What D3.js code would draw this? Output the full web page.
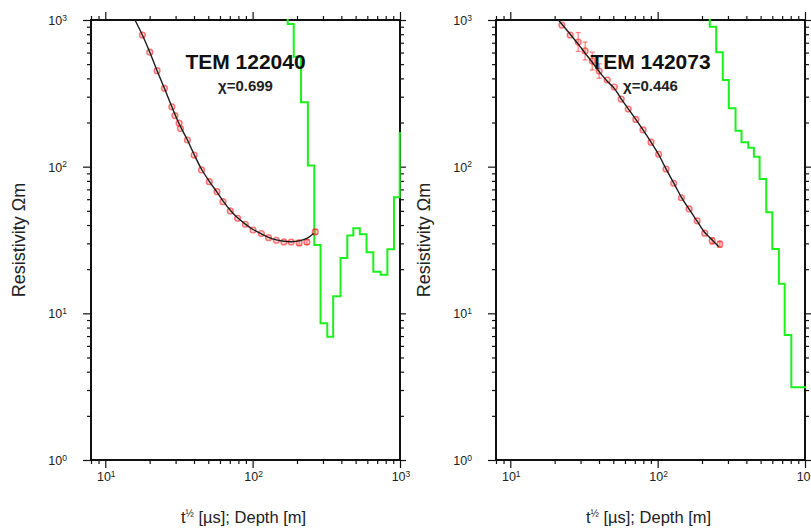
<!DOCTYPE html>
<html>
<head>
<meta charset="utf-8">
<script src="https://cdn.jsdelivr.net/npm/d3@7"></script>
<style>
  html, body { margin: 0; padding: 0; background: #fff; }
  svg { display: block; font-family: "Liberation Sans", Arial, Helvetica, sans-serif; }
</style>
</head>
<body>
<svg id="chart" width="811" height="531"></svg>
<script>
// ---- Sounding TEM 122040 ----
const obsTime1 = [17.85, 20.05, 22.47, 25.2, 28.3, 29.7, 31.7, 32.4, 36.1, 40.1, 45.0, 50.8, 57.3, 62.9, 70.5, 79.1, 89.2, 100.6, 114.6, 128.3, 144.9, 162.9, 182.7, 206.9, 233.4, 265.8];
const obsRho1  = [790, 603, 451, 342, 256, 223, 198, 182, 152, 120, 95, 79, 67.5, 57.7, 49.9, 44.5, 40.5, 37.0, 35.0, 32.8, 31.5, 30.7, 30.6, 30.2, 30.6, 35.9];
const obsErr1  = [0, 0, 0, 0, 0, 0, 0, 0, 0, 0, 0, 0, 0, 0, 0, 0, 0, 0, 0, 0, 0, 0, 0, 0.04, 0.04, 0.04];
const fitTime1 = [15.9, 17.85, 20.05, 22.47, 25.2, 28.3, 31.7, 36.1, 40.1, 45, 50.8, 57.3, 62.9, 70.5, 79.1, 89.2, 100.6, 114.6, 128.3, 144.9, 162.9, 182.7, 206.9, 233.4, 259];
const fitRho1  = [1000, 790, 603, 451, 342, 256, 196, 152, 121, 96, 79.5, 67, 58.5, 50.5, 44.8, 40.6, 37.3, 34.8, 33.0, 31.7, 31.0, 30.8, 31.2, 32.4, 35.0];
const layerTop1 = [150, 173, 190, 213, 237, 262, 289, 321, 352, 395, 439, 482, 534, 593, 659, 739, 821, 910, 995, 1200];
const layerRho1 = [1500, 939, 562, 275, 102, 29.2, 8.55, 6.93, 13.1, 23.8, 33.9, 38.0, 34.6, 26.1, 19.2, 18.3, 27.4, 61.8, 169, 169];

// ---- Sounding TEM 142073 ----
const obsTime2 = [22.4, 25.5, 28.9, 32.2, 36.0, 40.1, 45.5, 50.8, 56.6, 63.2, 71.1, 79.6, 90.2, 101.6, 114.0, 128.5, 145.0, 163.5, 185.4, 208.8, 234.5, 264.1];
const obsRho2  = [924, 790, 708, 615, 525, 449, 390, 349, 289, 247, 210, 178, 147, 121.5, 96.4, 77.1, 61.4, 51.5, 42.7, 35.2, 31.2, 29.6];
const obsErr2  = [0, 0, 0.16, 0.15, 0.15, 0.12, 0, 0, 0, 0, 0, 0, 0, 0, 0, 0, 0, 0, 0, 0, 0.05, 0.05];
const fitTime2 = [21.2, 25.5, 28.9, 32.2, 36, 40.1, 45.5, 50.8, 56.6, 63.2, 71.1, 79.6, 90.2, 101.6, 114, 128.5, 145, 163.5, 185.4, 208.8, 234.5, 260];
const fitRho2  = [1000, 800, 685, 595, 515, 445, 382, 342, 290, 248, 210, 178, 147, 121, 96.5, 77.5, 61.8, 51.3, 42.5, 35.6, 31.6, 28.5];
const layerTop2 = [200, 225.8, 249.6, 276.8, 304, 337.8, 371, 412, 450, 492, 546, 600, 665, 728, 808, 1200];
const layerRho2 = [1500, 900, 602, 390, 250, 176, 146.5, 134.8, 117, 82.4, 48.9, 27.5, 15.9, 7.13, 3.13, 3.13];

// ---- Panel text ----
const panelTitles = ["TEM 122040", "TEM 142073"];
const panelChi = ["χ=0.699", "χ=0.446"];

// ---- Axes ----
const xDomain = [8, 1000];
const yDomain = [1, 1000];
const xLabelExponents = [1, 2, 3];
const yLabelExponents = [0, 1, 2, 3];

const panelLefts = [91, 496];
const plotTop = 20;
const W = 309, H = 440;

const svg = d3.select("#chart");

function logTicks(domain) {
  const out = [];
  for (let e = -1; e <= 4; e++) {
    for (let m = 1; m < 10; m++) {
      const v = m * Math.pow(10, e);
      if (v >= domain[0] * 0.999 && v <= domain[1] * 1.001) out.push(v);
    }
  }
  return out;
}
const isMajor = v => Math.abs(Math.log10(v) - Math.round(Math.log10(v))) < 1e-9;

function powerLabel(sel, exp, size) {
  sel.append("tspan").text("10");
  sel.append("tspan").attr("dy", -4.5).attr("font-size", size * 0.68).text(String(exp));
}

const sets = [
  { obsT: obsTime1, obsR: obsRho1, obsE: obsErr1, fitT: fitTime1, fitR: fitRho1, layT: layerTop1, layR: layerRho1 },
  { obsT: obsTime2, obsR: obsRho2, obsE: obsErr2, fitT: fitTime2, fitR: fitRho2, layT: layerTop2, layR: layerRho2 }
];

sets.forEach((s, i) => {
  const g = svg.append("g").attr("transform", `translate(${panelLefts[i]},${plotTop})`);
  const x = d3.scaleLog().domain(xDomain).range([0, W]);
  const y = d3.scaleLog().domain(yDomain).range([H, 0]);

  const clipId = "clip" + i;
  g.append("clipPath").attr("id", clipId)
    .append("rect").attr("x", -1).attr("y", -1).attr("width", W + 2).attr("height", H + 2);

  // tick marks on all four sides, pointing outward
  const xt = logTicks(xDomain), yt = logTicks(yDomain);
  const gb = g.append("g").attr("transform", `translate(0,${H})`)
    .call(d3.axisBottom(x).tickValues(xt).tickFormat("").tickSizeOuter(0));
  const gt = g.append("g")
    .call(d3.axisTop(x).tickValues(xt).tickFormat("").tickSizeOuter(0));
  const gl = g.append("g")
    .call(d3.axisLeft(y).tickValues(yt).tickFormat("").tickSizeOuter(0));
  const gr = g.append("g").attr("transform", `translate(${W},0)`)
    .call(d3.axisRight(y).tickValues(yt).tickFormat("").tickSizeOuter(0));
  [gb, gt, gl, gr].forEach(a => {
    a.select(".domain").remove();
    a.selectAll(".tick line").attr("stroke", "#111").attr("stroke-width", 1.2);
  });
  gb.selectAll(".tick line").attr("y2", d => isMajor(d) ? 8 : 4);
  gt.selectAll(".tick line").attr("y2", d => isMajor(d) ? -8 : -4);
  gl.selectAll(".tick line").attr("x2", d => isMajor(d) ? -8 : -4);
  gr.selectAll(".tick line").attr("x2", d => isMajor(d) ? 6 : 4);

  // tick labels
  xLabelExponents.forEach(e => {
    const t = g.append("text")
      .attr("x", x(Math.pow(10, e)) + 1)
      .attr("y", H + 21)
      .attr("text-anchor", "middle")
      .attr("font-size", 12.5)
      .attr("fill", "#222");
    powerLabel(t, e, 12.5);
  });
  yLabelExponents.forEach(e => {
    const t = g.append("text")
      .attr("x", -24)
      .attr("y", y(Math.pow(10, e)) + 5)
      .attr("text-anchor", "end")
      .attr("font-size", 12.5)
      .attr("fill", "#222");
    powerLabel(t, e, 12.5);
  });

  // frame
  g.append("rect").attr("width", W).attr("height", H)
    .attr("fill", "none").attr("stroke", "#111").attr("stroke-width", 2);

  const data = g.append("g").attr("clip-path", `url(#${clipId})`);

  // layered model (step line)
  const layers = s.layT.map((d, k) => [d, s.layR[k]]);
  data.append("path")
    .datum(layers)
    .attr("fill", "none")
    .attr("stroke", "#1cf01c")
    .attr("stroke-width", 2)
    .attr("d", d3.line().x(d => x(d[0])).y(d => y(d[1])).curve(d3.curveStepAfter));

  // observed apparent resistivity with error bars
  const obs = s.obsT.map((t, k) => ({ t, r: s.obsR[k], e: s.obsE[k] }));
  const eb = data.append("g")
    .attr("stroke", "rgba(255,40,40,0.55)")
    .attr("stroke-width", 1.3);
  obs.filter(d => d.e > 0).forEach(d => {
    const cx = x(d.t), y1 = y(d.r * (1 + d.e)), y2 = y(d.r / (1 + d.e));
    eb.append("line").attr("x1", cx).attr("x2", cx).attr("y1", y1).attr("y2", y2);
    eb.append("line").attr("x1", cx - 2.5).attr("x2", cx + 2.5).attr("y1", y1).attr("y2", y1);
    eb.append("line").attr("x1", cx - 2.5).attr("x2", cx + 2.5).attr("y1", y2).attr("y2", y2);
  });
  data.append("g").selectAll("circle")
    .data(obs)
    .join("circle")
    .attr("cx", d => x(d.t))
    .attr("cy", d => y(d.r))
    .attr("r", 2.9)
    .attr("fill", "rgba(255,90,90,0.25)")
    .attr("stroke", "rgba(255,30,30,0.6)")
    .attr("stroke-width", 1.4);

  // model response
  const fit = s.fitT.map((t, k) => [t, s.fitR[k]]);
  data.append("path")
    .datum(fit)
    .attr("fill", "none")
    .attr("stroke", "#1c1c1c")
    .attr("stroke-width", 1.4)
    .attr("d", d3.line().x(d => x(d[0])).y(d => y(d[1])).curve(d3.curveCatmullRom));

  // titles
  g.append("text")
    .attr("x", W / 2).attr("y", 49)
    .attr("text-anchor", "middle")
    .attr("font-size", 21).attr("font-weight", "bold").attr("fill", "#111")
    .text(panelTitles[i]);
  g.append("text")
    .attr("x", W / 2).attr("y", 71)
    .attr("text-anchor", "middle")
    .attr("font-size", 15).attr("font-weight", "bold").attr("fill", "#222")
    .text(panelChi[i]);

  // axis titles
  g.append("text")
    .attr("transform", `translate(-66,${H / 2}) rotate(-90)`)
    .attr("text-anchor", "middle")
    .attr("font-size", 18).attr("fill", "#222")
    .text("Resistivity Ωm");
  const xl = g.append("text")
    .attr("x", W / 2 - 2).attr("y", 503)
    .attr("text-anchor", "middle")
    .attr("font-size", 16.5).attr("fill", "#222");
  xl.append("tspan").text("t");
  xl.append("tspan").attr("dy", -6).attr("font-size", 10).text("½");
  xl.append("tspan").attr("dy", 6).text(" [µs]; Depth [m]");
});
</script>
</body>
</html>
